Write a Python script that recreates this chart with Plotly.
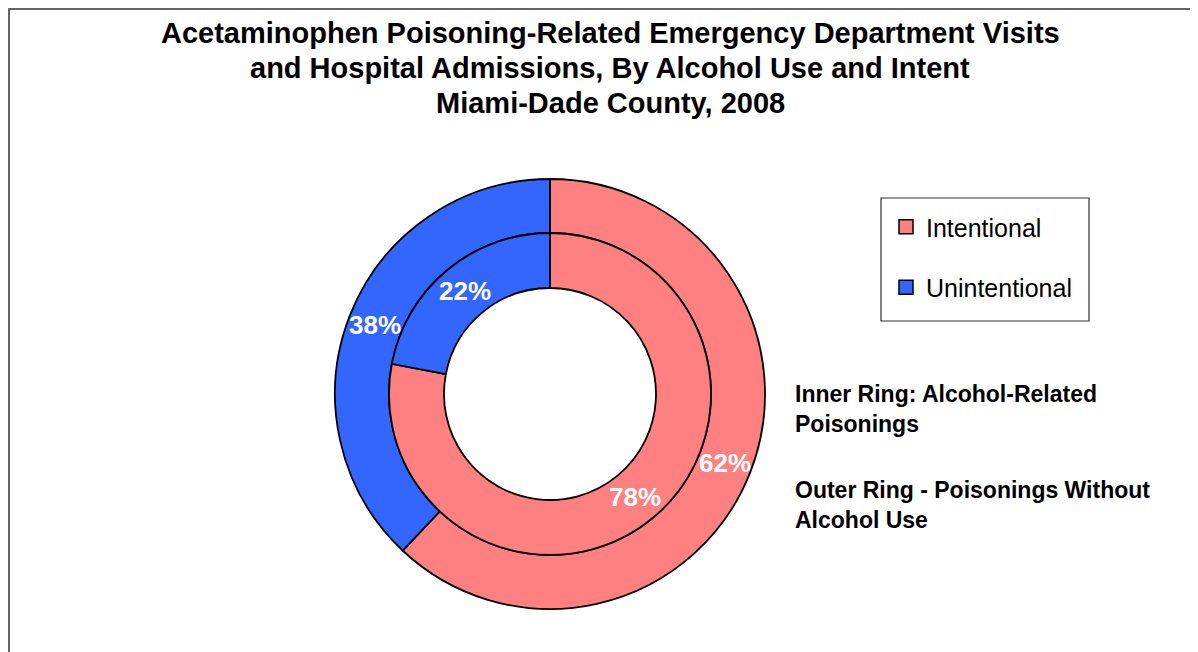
import math
import plotly.graph_objects as go

# ---- data ----
categories = ["Intentional", "Unintentional"]
outer_values = [62, 38]   # Outer ring: poisonings without alcohol use
inner_values = [78, 22]   # Inner ring: alcohol-related poisonings
colors = ["#FF8080", "#3366FF"]

title_lines = [
    "Acetaminophen Poisoning-Related Emergency Department Visits",
    "and Hospital Admissions, By Alcohol Use and Intent",
    "Miami-Dade County, 2008",
]
note_inner = ["Inner Ring: Alcohol-Related", "Poisonings"]
note_outer = ["Outer Ring - Poisonings Without", "Alcohol Use"]

# ---- layout geometry (pixels, figure space) ----
W, H = 1198, 652
cx, cy = 542, 386
r_out, r_mid, r_in = 215, 161, 106
FONT = "Liberation Sans, Arial, sans-serif"


def px(x):
    return x / W


def py(y):
    return 1 - y / H


def dom(r):
    return dict(x=[px(cx - r), px(cx + r)], y=[py(cy + r), py(cy - r)])


line = dict(color="black", width=1.8)
fig = go.Figure()
for vals, r0, r1 in [(outer_values, r_mid, r_out), (inner_values, r_in, r_mid)]:
    fig.add_trace(go.Pie(
        labels=categories, values=vals, hole=r0 / r1,
        domain=dom(r1), sort=False, direction="clockwise", rotation=0,
        marker=dict(colors=colors, line=line),
        textinfo="none", showlegend=False, hoverinfo="label+percent",
    ))

# percentage labels placed at each slice's mid-angle, mid-ring radius
label_annotations = []
for vals, r0, r1 in [(outer_values, r_mid, r_out), (inner_values, r_in, r_mid)]:
    total = sum(vals)
    cum = 0
    rm = (r0 + r1) / 2
    for v in vals:
        mid = (cum + v / 2) / total * 2 * math.pi
        cum += v
        x = cx + rm * math.sin(mid)
        y = cy - rm * math.cos(mid)
        label_annotations.append(dict(
            text=f"{round(100 * v / total)}%", xref="paper", yref="paper",
            x=px(x), y=py(y), xanchor="center", yanchor="middle",
            showarrow=False,
            font=dict(size=26, family=FONT, color="white", weight="bold"),
        ))

# title lines
title_annotations = []
for i, t in enumerate(title_lines):
    title_annotations.append(dict(
        text=t, xref="paper", yref="paper",
        x=px(602), y=py(25 + 35 * i), xanchor="center", yanchor="middle",
        showarrow=False,
        font=dict(size=29, family=FONT, color="black", weight="bold"),
    ))

# legend entries
for cat, col in zip(categories, colors):
    fig.add_trace(go.Scatter(
        x=[None], y=[None], mode="markers", name=cat, legendgroup=cat,
        marker=dict(symbol="square", size=14, color=col,
                    line=dict(color="black", width=1.5)),
        showlegend=True,
    ))

fig.update_layout(
    width=W, height=H,
    margin=dict(l=0, r=0, t=0, b=0),
    paper_bgcolor="white", plot_bgcolor="white",
    font=dict(family=FONT, color="black"),
    xaxis=dict(visible=False), yaxis=dict(visible=False),
    legend=dict(
        x=px(878), y=py(196), xanchor="left", yanchor="top",
        borderwidth=0, bgcolor="rgba(0,0,0,0)",
        font=dict(size=25, family=FONT, color="black"),
        tracegroupgap=25, itemsizing="trace",
    ),
    shapes=[
        dict(type="rect", xref="paper", yref="paper",
             x0=px(1), x1=1.05, y0=-0.05, y1=py(1),
             line=dict(color="#333333", width=1.5)),
        dict(type="rect", xref="paper", yref="paper",
             x0=px(873), x1=px(1081), y0=py(313), y1=py(190),
             line=dict(color="#333333", width=1.2)),
    ],
    annotations=title_annotations + label_annotations + [
        dict(text="<br>".join(note_inner), xref="paper", yref="paper",
             x=px(785), y=py(401), xanchor="left", yanchor="middle",
             align="left", showarrow=False,
             font=dict(size=23, family=FONT, color="black", weight="bold")),
        dict(text="<br>".join(note_outer), xref="paper", yref="paper",
             x=px(785), y=py(497), xanchor="left", yanchor="middle",
             align="left", showarrow=False,
             font=dict(size=23, family=FONT, color="black", weight="bold")),
    ],
)

fig.write_html("out.html")
